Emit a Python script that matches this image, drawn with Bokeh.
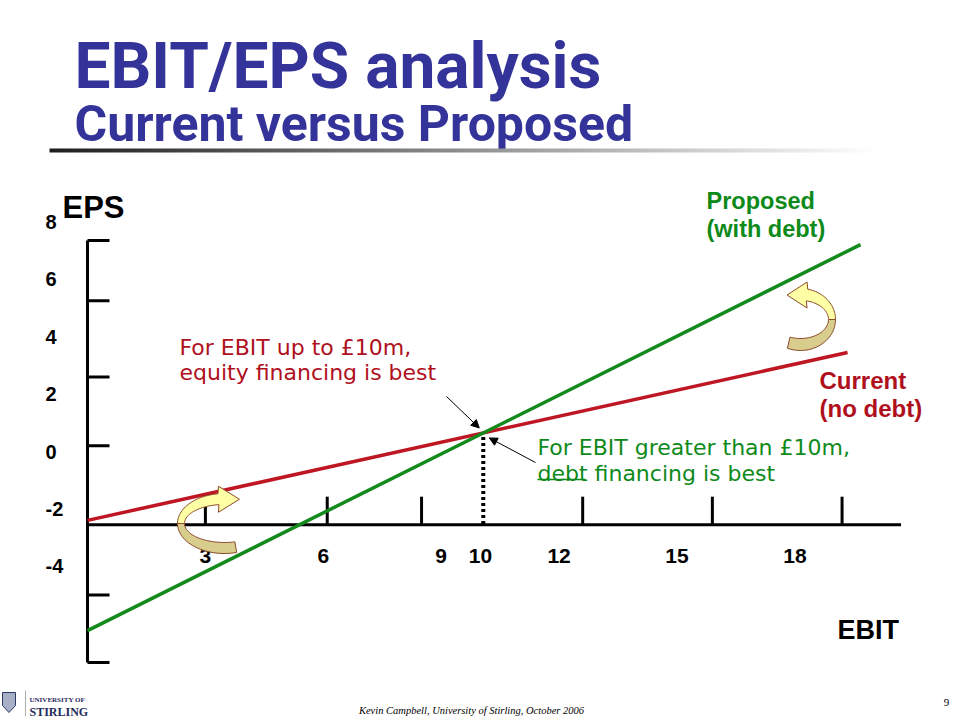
import numpy as np
from bokeh.plotting import figure
from bokeh.models import Range1d, Arrow, NormalHead
from bokeh.core.properties import value
from bokeh.embed import file_html
from bokeh.resources import INLINE

# ---------------- data ----------------
ebit_tick_labels = ["3", "6", "9", "10", "12", "15", "18"]
ebit_label_values = [3, 6, 9, 10, 12, 15, 18]
eps_tick_labels = ["8", "6", "4", "2", "0", "-2", "-4"]
eps_label_values = [8, 6, 4, 2, 0, -2, -4]
ebit_tick_marks = [3.0, 6.1, 8.5, 12.6, 15.9, 19.2]     # hand-drawn tick marks on the EBIT axis
eps_tick_marks = [7.35, 5.25, 2.6, 0.2, -5.0, -7.35]    # hand-drawn tick marks on the EPS axis
eps_axis_level = -2.55                                  # where the EBIT axis crosses
ebit_axis_end = 20.7
eps_axis_range = [-7.35, 7.35]

current_ebit = [0.0, 19.34]
current_eps = [-2.40, 3.45]
proposed_ebit = [0.0, 19.67]
proposed_eps = [-6.24, 7.21]

# ---------------- layout helpers (reference pixel -> data) ----------------
PX_PER_EBIT, EBIT0_PX = 39.3, 87.0
PX_PER_EPS, EPS0_PX = 28.7, 451.0
def dx(X):
    return (X - EBIT0_PX) / PX_PER_EBIT
def dy(Y):
    return (EPS0_PX - Y) / PX_PER_EPS
def ddx(px):
    return px / PX_PER_EBIT
def ddy(px):
    return px / PX_PER_EPS

W, H = 960, 720
p = figure(width=W, height=H, x_range=Range1d(dx(0), dx(W)),
           y_range=Range1d(dy(H), dy(0)), x_axis_type=None, y_axis_type=None,
           toolbar_location=None, output_backend="svg", min_border=0,
           min_border_left=0, min_border_right=0, min_border_top=0, min_border_bottom=0)
p.outline_line_color = None
p.background_fill_color = "white"
p.border_fill_color = "white"

TITLE_BLUE = "#333399"
GREEN = "#138A1C"
RED = "#BE1622"
RED_TXT = "#B0101E"
GREEN_TXT = "#0E8A1A"

# ---------------- title ----------------
p.text(x=[dx(74)], y=[dy(66)], text=["EBIT/EPS analysis"], text_font=value("Roboto"),
       text_font_style="bold", text_font_size="64px", text_color=TITLE_BLUE,
       text_baseline="alphabetic")
p.text(x=[dx(74)], y=[dy(123)], text=["Current versus Proposed"], text_font=value("Roboto"),
       text_font_style="bold", text_font_size="50px", text_color=TITLE_BLUE,
       text_baseline="alphabetic")

# gradient rule under the title
N = 400
grad = np.zeros((1, N), dtype=np.uint32)
view = grad.view(dtype=np.uint8).reshape((1, N, 4))
t = np.linspace(0, 1, N)
g = (30 + 225 * t).astype(np.uint8)
view[0, :, 0] = g
view[0, :, 1] = g
view[0, :, 2] = g
view[0, :, 3] = 255
p.image_rgba(image=[grad], x=dx(49), y=dy(152), dw=dx(875) - dx(49), dh=ddy(4))

# ---------------- axes ----------------
p.segment(x0=[0], y0=[eps_axis_range[0]], x1=[0], y1=[eps_axis_range[1]],
          line_color="black", line_width=3)
p.segment(x0=[0], y0=[eps_axis_level], x1=[ebit_axis_end], y1=[eps_axis_level],
          line_color="black", line_width=3)
p.segment(x0=[0] * len(eps_tick_marks), y0=eps_tick_marks,
          x1=[ddx(22)] * len(eps_tick_marks), y1=eps_tick_marks,
          line_color="black", line_width=3)
p.segment(x0=ebit_tick_marks, y0=[eps_axis_level] * len(ebit_tick_marks),
          x1=ebit_tick_marks, y1=[eps_axis_level + ddy(28)] * len(ebit_tick_marks),
          line_color="black", line_width=3)

p.text(x=[dx(45)] * len(eps_label_values), y=eps_label_values, text=eps_tick_labels,
       text_font=value("Liberation Sans"), text_font_style="bold", text_font_size="20px",
       text_color="black", text_align="left", text_baseline="middle")
p.text(x=ebit_label_values, y=[eps_axis_level] * len(ebit_label_values), text=ebit_tick_labels,
       y_offset=31, text_font=value("Liberation Sans"), text_font_style="bold",
       text_font_size="21px", text_color="black", text_align="center", text_baseline="middle")

p.text(x=[dx(62)], y=[dy(207)], text=["EPS"], text_font=value("Liberation Sans"),
       text_font_style="bold", text_font_size="31px", text_color="black",
       text_baseline="alphabetic")
p.text(x=[dx(837)], y=[dy(629)], text=["EBIT"], text_font=value("Liberation Sans"),
       text_font_style="bold", text_font_size="27px", text_color="black",
       text_baseline="alphabetic")

# ---------------- the two EPS lines ----------------
p.line(current_ebit, current_eps, line_color=RED, line_width=3.5)
p.line(proposed_ebit, proposed_eps, line_color=GREEN, line_width=3.5)

# break-even point (intersection of the two lines)
sc = (current_eps[1] - current_eps[0]) / (current_ebit[1] - current_ebit[0])
sp = (proposed_eps[1] - proposed_eps[0]) / (proposed_ebit[1] - proposed_ebit[0])
be_x = (current_eps[0] - proposed_eps[0]) / (sp - sc)
be_y = current_eps[0] + sc * be_x
p.segment(x0=[be_x], y0=[be_y - ddy(4)], x1=[be_x], y1=[eps_axis_level],
          line_color="black", line_width=4, line_dash="3 3")

# pointer arrows to the break-even point
p.add_layout(Arrow(end=NormalHead(size=8, fill_color="black", line_color="black"),
                   x_start=dx(446), y_start=dy(396), x_end=be_x - ddx(4), y_end=be_y + ddy(5),
                   line_color="black", line_width=1))
p.add_layout(Arrow(end=NormalHead(size=8, fill_color="black", line_color="black"),
                   x_start=dx(535), y_start=dy(462), x_end=be_x + ddx(6), y_end=be_y - ddy(5),
                   line_color="black", line_width=1))

# ---------------- annotations ----------------
p.text(x=[dx(179), dx(179)], y=[dy(347), dy(372)],
       text=["For EBIT up to £10m,", "equity financing is best"],
       text_font=value("DejaVu Sans"), text_font_size="22px", text_color=RED_TXT,
       text_baseline="alphabetic")
p.text(x=[dx(537), dx(537)], y=[dy(447), dy(473)],
       text=["For EBIT greater than £10m,", "debt financing is best"],
       text_font=value("DejaVu Sans"), text_font_size="22px", text_color=GREEN_TXT,
       text_baseline="alphabetic")
p.segment(x0=[dx(537)], y0=[dy(479)], x1=[dx(585)], y1=[dy(479)],
          line_color=GREEN_TXT, line_width=1.5)

p.text(x=[dx(706), dx(706)], y=[dy(200), dy(228)], text=["Proposed", "(with debt)"],
       text_font=value("Liberation Sans"), text_font_style="bold", text_font_size="23.5px",
       text_color=GREEN_TXT, text_baseline="alphabetic")
p.text(x=[dx(819), dx(819)], y=[dy(380), dy(408)], text=["Current", "(no debt)"],
       text_font=value("Liberation Sans"), text_font_style="bold", text_font_size="24px",
       text_color=RED_TXT, text_baseline="alphabetic")

# ---------------- curved 3D arrows (decoration) ----------------
def arc(cx, cy, rx, ry, t0, t1, mirror, n=30):
    ts = np.radians(np.linspace(t0, t1, n))
    s = -1 if mirror else 1
    return list(cx + s * rx * np.cos(ts)), list(cy + ry * np.sin(ts))

def curved_arrow(cx, cy, rxo, ryo, rxi, ryi, t_low, t_end, head_len, head_half, mirror):
    s = -1 if mirror else 1
    ox, oy = arc(cx, cy, rxo, ryo, t_low, 180, mirror)
    ix, iy = arc(cx, cy, rxi, ryi, 180, t_low, mirror)
    low_x, low_y = ox + ix, oy + iy
    ox2, oy2 = arc(cx, cy, rxo, ryo, 180, t_end, mirror)
    ix2, iy2 = arc(cx, cy, rxi, ryi, t_end, 180, mirror)
    bx = (ox2[-1] + ix2[0]) / 2
    my = (oy2[-1] + iy2[0]) / 2
    head_x = [bx, bx + s * head_len, bx]
    head_y = [my - head_half, my, my + head_half]
    up_x = ox2 + head_x + ix2
    up_y = oy2 + head_y + iy2
    p.patch([dx(v) for v in low_x], [dy(v) for v in low_y], fill_color="#D8CD8C",
            line_color="#8B4A2B", line_width=1)
    p.patch([dx(v) for v in up_x], [dy(v) for v in up_y], fill_color="#FFFFA6",
            line_color="#8B4A2B", line_width=1)

curved_arrow(224, 523, 47, 30, 40, 19, 75, 262, 21, 13, False)
curved_arrow(800, 319, 35, 31, 28, 19, 68, 258, 20, 13, True)

# ---------------- footer ----------------
crest_x = [2, 15, 15, 8.5, 2]
crest_y = [692, 692, 705, 712, 705]
p.patch([dx(v) for v in crest_x], [dy(v) for v in crest_y], fill_color="#A7B0C4",
        line_color="#2B3A67", line_width=1)
p.segment(x0=[dx(25)], y0=[dy(690)], x1=[dx(25)], y1=[dy(716)], line_color="#B0B0B0", line_width=1)
p.text(x=[dx(29)], y=[dy(699)], text=["UNIVERSITY OF"], text_font=value("Liberation Serif"),
       text_font_style="bold", text_font_size="7px", text_color="#1F2A5A", text_baseline="alphabetic")
p.text(x=[dx(29)], y=[dy(711)], text=["STIRLING"], text_font=value("Liberation Serif"),
       text_font_style="bold", text_font_size="12px", text_color="#1F2A5A", text_baseline="alphabetic")
p.text(x=[dx(471)], y=[dy(710)], text=["Kevin Campbell, University of Stirling, October 2006"],
       text_font=value("Liberation Serif"), text_font_style="italic", text_font_size="10.5px",
       text_color="black", text_align="center", text_baseline="alphabetic")
p.text(x=[dx(946)], y=[dy(702)], text=["9"], text_font=value("Liberation Serif"),
       text_font_size="11px", text_color="black", text_align="center", text_baseline="alphabetic")

open("out.html", "w").write(file_html(p, INLINE))
